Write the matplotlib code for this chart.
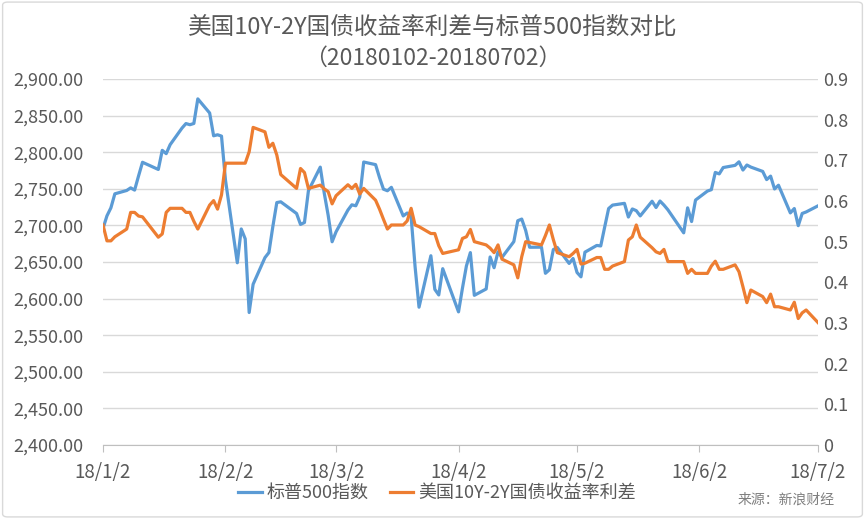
import datetime as dt

import matplotlib
matplotlib.use('Agg')
import matplotlib.pyplot as plt
from matplotlib.patches import FancyBboxPatch
from matplotlib.ticker import FuncFormatter, MultipleLocator

plt.rcParams['font.family'] = ['Noto Sans CJK SC', 'DejaVu Sans']

# trading days, 2018 (month-day)
trade_days = [
    '01-02', '01-03', '01-04', '01-05', '01-08', '01-09', '01-10', '01-11', '01-12', '01-16',
    '01-17', '01-18', '01-19', '01-22', '01-23', '01-24', '01-25', '01-26', '01-29', '01-30',
    '01-31', '02-01', '02-02', '02-05', '02-06', '02-07', '02-08', '02-09', '02-12', '02-13',
    '02-14', '02-15', '02-16', '02-20', '02-21', '02-22', '02-23', '02-26', '02-27', '02-28',
    '03-01', '03-02', '03-05', '03-06', '03-07', '03-08', '03-09', '03-12', '03-13', '03-14',
    '03-15', '03-16', '03-19', '03-20', '03-21', '03-22', '03-23', '03-26', '03-27', '03-28',
    '03-29', '04-02', '04-03', '04-04', '04-05', '04-06', '04-09', '04-10', '04-11', '04-12',
    '04-13', '04-16', '04-17', '04-18', '04-19', '04-20', '04-23', '04-24', '04-25', '04-26',
    '04-27', '04-30', '05-01', '05-02', '05-03', '05-04', '05-07', '05-08', '05-09', '05-10',
    '05-11', '05-14', '05-15', '05-16', '05-17', '05-18', '05-21', '05-22', '05-23', '05-24',
    '05-25', '05-29', '05-30', '05-31', '06-01', '06-04', '06-05', '06-06', '06-07', '06-08',
    '06-11', '06-12', '06-13', '06-14', '06-15', '06-18', '06-19', '06-20', '06-21', '06-22',
    '06-25', '06-26', '06-27', '06-28', '06-29', '07-02',
]

spx = [
    2695.81, 2713.06, 2723.99, 2743.15, 2747.71, 2751.29, 2748.23, 2767.56, 2786.24, 2776.42,
    2802.56, 2798.03, 2810.30, 2832.97, 2839.13, 2837.54, 2839.25, 2872.87, 2853.53, 2822.43,
    2823.81, 2821.98, 2762.13, 2648.94, 2695.14, 2681.66, 2581.00, 2619.55, 2656.00, 2662.94,
    2698.63, 2731.20, 2732.22, 2716.26, 2701.33, 2703.96, 2747.30, 2779.60, 2744.28, 2713.83,
    2677.67, 2691.25, 2720.94, 2728.12, 2726.80, 2738.97, 2786.57, 2783.02, 2765.31, 2749.48,
    2747.33, 2752.01, 2712.92, 2716.94, 2711.93, 2643.69, 2588.26, 2658.55, 2612.62, 2605.00,
    2640.87, 2581.88, 2614.45, 2644.69, 2662.84, 2604.47, 2613.16, 2656.87, 2642.19, 2663.99,
    2656.30, 2677.84, 2706.39, 2708.64, 2693.13, 2670.14, 2670.29, 2634.56, 2639.40, 2666.94,
    2669.91, 2648.05, 2654.80, 2635.67, 2629.73, 2663.42, 2672.63, 2671.92, 2697.79, 2723.07,
    2727.72, 2730.13, 2711.45, 2722.46, 2720.13, 2712.97, 2733.01, 2724.44, 2733.29, 2727.76,
    2721.33, 2689.86, 2724.01, 2705.27, 2734.62, 2746.87, 2748.80, 2772.35, 2770.37, 2779.03,
    2782.00, 2786.85, 2775.63, 2782.49, 2779.66, 2773.75, 2762.59, 2767.32, 2749.76, 2754.88,
    2717.07, 2723.06, 2699.63, 2716.31, 2718.37, 2726.71,
]

spread = [
    0.541, 0.502, 0.502, 0.512, 0.531, 0.572, 0.572, 0.563, 0.561, 0.511,
    0.519, 0.572, 0.582, 0.582, 0.572, 0.572, 0.550, 0.531, 0.590, 0.601,
    0.580, 0.615, 0.693, 0.693, 0.693, 0.693, 0.721, 0.781, 0.770, 0.732,
    0.742, 0.713, 0.665, 0.631, 0.680, 0.670, 0.631, 0.639, 0.630, 0.623,
    0.593, 0.613, 0.640, 0.631, 0.641, 0.617, 0.631, 0.602, 0.580, 0.555,
    0.531, 0.541, 0.541, 0.551, 0.582, 0.541, 0.537, 0.520, 0.520, 0.490,
    0.471, 0.480, 0.508, 0.512, 0.530, 0.500, 0.492, 0.484, 0.473, 0.492,
    0.457, 0.443, 0.411, 0.463, 0.500, 0.498, 0.492, 0.515, 0.541, 0.505,
    0.473, 0.463, 0.471, 0.481, 0.445, 0.447, 0.461, 0.461, 0.432, 0.432,
    0.440, 0.451, 0.504, 0.512, 0.541, 0.511, 0.485, 0.475, 0.471, 0.481,
    0.451, 0.451, 0.422, 0.432, 0.422, 0.422, 0.440, 0.452, 0.432, 0.432,
    0.443, 0.426, 0.389, 0.350, 0.381, 0.365, 0.350, 0.371, 0.340, 0.340,
    0.332, 0.351, 0.311, 0.325, 0.332, 0.301,
]

month_ticks = ['2018-01-02', '2018-02-02', '2018-03-02', '2018-04-02',
               '2018-05-02', '2018-06-02', '2018-07-02']

title = '美国10Y-2Y国债收益率利差与标普500指数对比'
subtitle = '（20180102-20180702）'
spx_label = '标普500指数'
spread_label = '美国10Y-2Y国债收益率利差'
source = '来源：新浪财经'

BLUE = '#5B9BD5'
ORANGE = '#ED7D31'
TEXT = '#595959'
GRID = '#D9D9D9'

dates = [dt.datetime.strptime('2018-' + d, '%Y-%m-%d') for d in trade_days]
tick_dates = [dt.datetime.strptime(d, '%Y-%m-%d') for d in month_ticks]

fig = plt.figure(figsize=(8.65, 5.19), dpi=100)
ax = fig.add_axes([103 / 865, 1 - 445 / 519, 715 / 865, 366 / 519])
ax2 = ax.twinx()

# chart border like the spreadsheet export
fig.patches.append(FancyBboxPatch((0.003, 0.004), 0.994, 0.992, boxstyle='round,pad=0,rounding_size=0.006',
                                  transform=fig.transFigure, fill=False, edgecolor='#D9D9D9', linewidth=1))

l1, = ax.plot(dates, spx, color=BLUE, linewidth=2.3, solid_joinstyle='round', label=spx_label)
l2, = ax2.plot(dates, spread, color=ORANGE, linewidth=2.3, solid_joinstyle='round', label=spread_label)

# left axis
ax.set_ylim(2400, 2900)
ax.yaxis.set_major_locator(MultipleLocator(50))
ax.yaxis.set_major_formatter(FuncFormatter(lambda v, p: f'{v:,.2f}'))
ax.grid(axis='y', color=GRID, linewidth=1)
ax.set_axisbelow(True)

# right axis
ax2.set_ylim(0, 0.9)
ax2.yaxis.set_major_locator(MultipleLocator(0.1))
ax2.yaxis.set_major_formatter(FuncFormatter(lambda v, p: '0' if abs(v) < 1e-9 else f'{v:.1f}'))

# x axis
ax.set_xlim(tick_dates[0], tick_dates[-1])
ax.set_xticks(tick_dates)
ax.set_xticklabels([f'{d:%y}/{d.month}/{d.day}' for d in tick_dates])

for a in (ax, ax2):
    for s in ('top', 'left', 'right', 'bottom'):
        a.spines[s].set_visible(False)
    a.tick_params(axis='y', length=0, labelsize=13, labelcolor=TEXT)
ax.spines['bottom'].set_visible(True)
ax.spines['bottom'].set_color('#BFBFBF')
ax.tick_params(axis='x', length=5, color='#BFBFBF', labelsize=13.5, labelcolor=TEXT, pad=7)
ax.tick_params(axis='y', pad=14)
ax2.tick_params(axis='y', pad=4)

fig.text(0.5, 1 - 27 / 519, title, ha='center', va='center', fontsize=17, color=TEXT)
fig.text(0.5, 1 - 58 / 519, subtitle, ha='center', va='center', fontsize=16.5, color=TEXT)

fig.legend(handles=[l1, l2], loc='center', bbox_to_anchor=(437 / 865, 1 - 493 / 519), ncol=2,
           frameon=False, fontsize=13, labelcolor=TEXT, handlelength=1.3, handletextpad=0.25,
           columnspacing=1.2)

fig.text(835 / 865, 1 - 500 / 519, source, ha='right', va='center', fontsize=10, color='#7F7F7F')

plt.savefig('out.png', dpi=100)
